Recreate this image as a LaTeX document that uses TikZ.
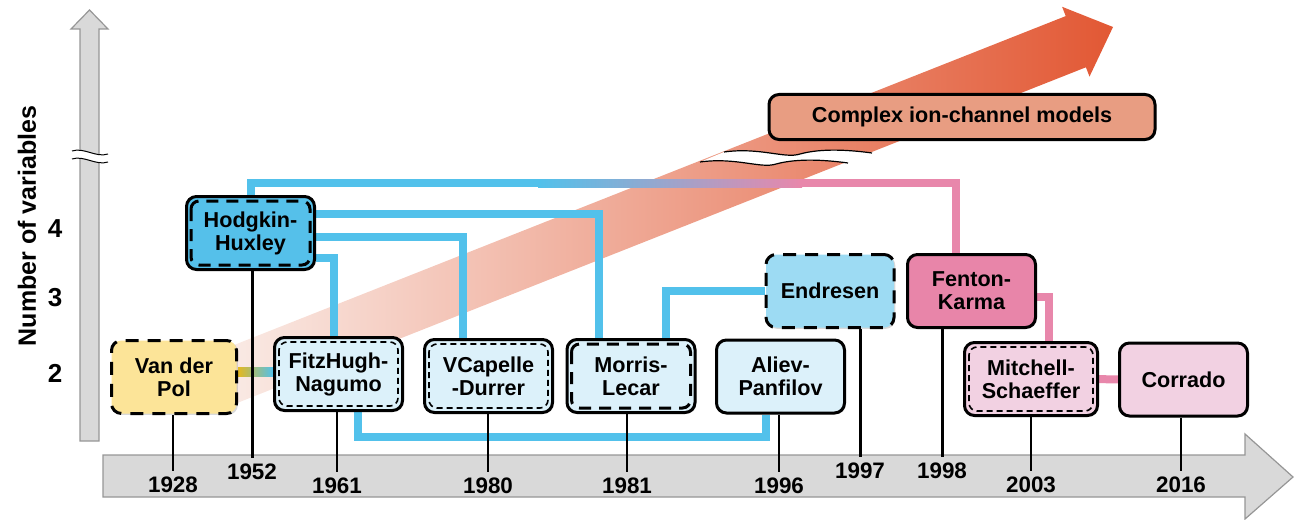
\documentclass[tikz,border=0pt]{standalone}
\usepackage{fontspec}
\setmainfont{Liberation Sans}
\usetikzlibrary{calc,shadows,backgrounds}

\definecolor{hhblue}{RGB}{85,192,234}
\definecolor{lineblue}{RGB}{82,193,235}
\definecolor{paleblue}{RGB}{220,241,250}
\definecolor{endblue}{RGB}{157,219,243}
\definecolor{vdpyellow}{RGB}{252,228,152}
\definecolor{vdpgold}{RGB}{228,184,32}
\definecolor{fkpink}{RGB}{232,133,169}
\definecolor{linepink}{RGB}{232,135,171}
\definecolor{palepink}{RGB}{242,209,226}
\definecolor{cxsalmon}{RGB}{232,157,130}
\definecolor{axisgray}{RGB}{217,217,217}
\definecolor{axisedge}{RGB}{150,150,150}
\definecolor{arrowstart}{RGB}{250,236,231}
\definecolor{arrowend}{RGB}{226,88,52}

\begin{document}
\begin{tikzpicture}[x=0.5pt,y=-0.5pt,
    model/.style={draw, line width=1.5pt, rounded corners=5pt, minimum width=64pt, minimum height=36.5pt,
      inner sep=0pt, align=center, font=\bfseries\fontsize{10.8}{11.5}\selectfont,
      drop shadow={shadow xshift=0.7pt, shadow yshift=-0.7pt, opacity=0.3}},
    dashedmodel/.style={model, dash pattern=on 6.5pt off 4.5pt},
    heavydash/.style={line width=1.5pt, rounded corners=4pt, dash pattern=on 6pt off 4pt},
    lightdash/.style={line width=0.8pt, rounded corners=4pt, dash pattern=on 3pt off 2pt},
    blueline/.style={lineblue, line width=4pt},
    pinkline/.style={linepink, line width=4pt},
    tick/.style={line width=0.6pt, shorten >=2pt},
    year/.style={font=\bfseries\fontsize{11.2}{11.2}\selectfont, inner sep=1pt},
    varnum/.style={font=\bfseries\fontsize{13}{13}\selectfont},
    axis/.style={fill=axisgray, draw=axisedge, line width=0.6pt}]
  \useasboundingbox (0,0) rectangle (1300,519);

  \node[dashedmodel, fill=vdpyellow, minimum width=62.5pt] (vdp) at (174,377) {Van der\\Pol};
  \node[model, fill=hhblue] (hh) at (250.5,233) {Hodgkin-\\Huxley};
  \node[model, fill=paleblue] (fhn) at (338.5,374) {FitzHugh-\\Nagumo};
  \node[model, fill=paleblue] (vcd) at (488.5,376) {VCapelle\\-Durrer};
  \node[model, fill=paleblue] (ml) at (631,376) {Morris-\\Lecar};
  \node[model, fill=paleblue] (ap) at (780.5,376.5) {Aliev-\\Panfilov};
  \node[dashedmodel, fill=endblue] (endr) at (830,291) {Endresen};
  \node[model, fill=fkpink] (fk) at (971.5,291) {Fenton-\\Karma};
  \node[model, fill=palepink, minimum width=66.5pt] (ms) at (1031,379) {Mitchell-\\Schaeffer};
  \node[model, fill=palepink] (cor) at (1183.5,379.5) {Corrado};
  \node[model, fill=cxsalmon, minimum width=193pt, minimum height=22.5pt] (cx) at (962,117) {Complex ion-channel models};

  \foreach \n/\s in {hh/heavydash, ml/heavydash, fhn/lightdash, vcd/lightdash, ms/lightdash}
    \draw[\s] ([shift={(6,6)}]\n.north west) rectangle ([shift={(-6,-6)}]\n.south east);

  \foreach \yr/\x/\y in {1928/173/485, 1952/252/472, 1961/337/486, 1980/488/486, 1981/627/486,
      1996/779/486, 1997/860/471, 1998/942/471, 2003/1031/485, 2016/1181/485}
    \node[year] (y\yr) at (\x,\y) {\yr};

  \node[varnum] (v4) at (55,229) {4};
  \node[varnum] (v3) at (55,298) {3};
  \node[varnum] (v2) at (55,373) {2};
  \node[rotate=90, font=\bfseries\fontsize{12.5}{12.5}\selectfont] (vlab) at (27,226) {Number of variables};

  \begin{scope}[on background layer]
    \filldraw[axis] (80,441) -- (80,29) -- (71,29) -- (89.5,10) -- (108,29) -- (99,29) -- (99,441) -- cycle;
    \fill[white] (72,151) .. controls (84,147) and (96,158) .. (108,154) -- (108,162) .. controls (96,166) and (84,155) .. (72,159) -- cycle;
    \draw[line width=0.5pt] (72,151) .. controls (84,147) and (96,158) .. (108,154);
    \draw[line width=0.5pt] (72,159) .. controls (84,155) and (96,166) .. (108,162);
    \filldraw[axis] (103,455) -- (1245,455) -- (1245,434) -- (1293,477) -- (1245,519) -- (1245,497) -- (103,497) -- cycle;

    \shade[left color=arrowstart, right color=arrowend] (217.9,351.4) -- (1065.7,16.1) -- (1062.1,6.8) -- (1113,27)
      -- (1089.5,76.6) -- (1085.9,67.3) -- (238.1,402.6) -- cycle;
    \fill[white] (724,152) .. controls (760,147) and (785,159) .. (800,154) .. controls (822,148) and (850,150) .. (872,153)
      -- (848,163) .. controls (826,160) and (798,158) .. (776,164) .. controls (761,169) and (736,157) .. (700,162) -- cycle;
    \draw[line width=0.6pt] (724,152) .. controls (760,147) and (785,159) .. (800,154) .. controls (822,148) and (850,150) .. (872,153);
    \draw[line width=0.6pt] (700,162) .. controls (736,157) and (761,169) .. (776,164) .. controls (798,158) and (826,160) .. (848,163);

    \coordinate (g1) at (541,183);
    \coordinate (g2) at (799,183);
    \coordinate (bot) at (766,437);
    \shade[left color=lineblue, right color=linepink] (538,179) rectangle (802,187);
    \draw[blueline] (hh.north) |- (g1);
    \draw[pinkline] (g2) -| (956,0 |- fk.north);
    \draw[blueline] (hh.east |- 0,214) -| (599,0 |- ml.north);
    \draw[blueline] (hh.east |- 0,237) -| (463,0 |- vcd.north);
    \draw[blueline] (hh.east |- 0,258) -| (334,0 |- fhn.north);
    \draw[blueline] (358,0 |- fhn.south) |- (bot) -- (bot |- ap.south);
    \draw[blueline] (666,0 |- ml.north) |- (endr.west);
    \shade[left color=vdpgold, right color=lineblue] (vdp.east |- 0,367) rectangle (fhn.west |- 0,376);
    \draw[pinkline] (fk.east |- 0,297) -| (1049,0 |- ms.north);
    \draw[pinkline] (ms) -- (cor);

    \foreach \b/\yr in {vdp/1928, fhn/1961, vcd/1980, ml/1981, ap/1996, ms/2003, cor/2016}
      \draw[tick] (y\yr.north |- \b.south) -- (y\yr.north);
    \foreach \b/\yr in {hh/1952, endr/1997, fk/1998}
      \draw[tick, line width=1.5pt] (y\yr.north |- \b.south) -- (y\yr.north);
  \end{scope}
\end{tikzpicture}
\end{document}
